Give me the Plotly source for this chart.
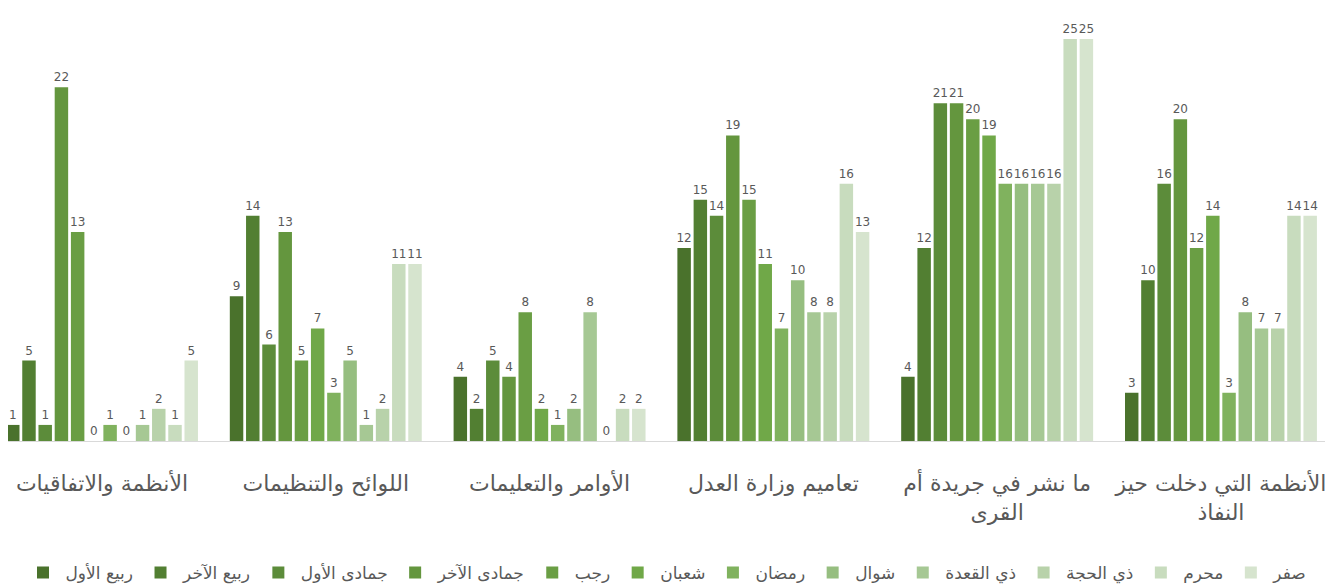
import plotly.graph_objects as go

categories = [
    "الأنظمة والاتفاقيات",
    "اللوائح والتنظيمات",
    "الأوامر والتعليمات",
    "تعاميم وزارة العدل",
    "ما نشر في جريدة أم<br>القرى",
    "الأنظمة التي دخلت حيز<br>النفاذ",
]

months = ["ربيع الأول", "ربيع الآخر", "جمادى الأول", "جمادى الآخر", "رجب", "شعبان",
          "رمضان", "شوال", "ذي القعدة", "ذي الحجة", "محرم", "صفر"]

# values per month, one entry per category (left to right)
rabi_awal = [1, 9, 4, 12, 4, 3]
rabi_akhir = [5, 14, 2, 15, 12, 10]
jumada_awal = [1, 6, 5, 14, 21, 16]
jumada_akhir = [22, 13, 4, 19, 21, 20]
rajab = [13, 5, 8, 15, 20, 12]
shaban = [0, 7, 2, 11, 19, 14]
ramadan = [1, 3, 1, 7, 16, 3]
shawwal = [0, 5, 2, 10, 16, 8]
dhul_qidah = [1, 1, 8, 8, 16, 7]
dhul_hijjah = [2, 2, 0, 8, 16, 7]
muharram = [1, 11, 2, 16, 25, 14]
safar = [5, 11, 2, 13, 25, 14]

series = [rabi_awal, rabi_akhir, jumada_awal, jumada_akhir, rajab, shaban,
          ramadan, shawwal, dhul_qidah, dhul_hijjah, muharram, safar]

colors = ["#4a722c", "#527f32", "#5c8c3a", "#64963e", "#6a9e44", "#70a848",
          "#80b25e", "#96be80", "#a6c894", "#b8d2aa", "#c8dcbe", "#d6e4ce"]

fig = go.Figure()
x_idx = list(range(len(categories)))
for name, vals, col in zip(months, series, colors):
    fig.add_trace(go.Bar(
        x=x_idx, y=vals, name=name,
        marker=dict(color=col, line=dict(width=0)),
        text=[str(v) for v in vals], textposition="outside",
        constraintext="none", cliponaxis=False,
        textfont=dict(family="DejaVu Sans", size=12, color="#595959"),
    ))

# the page adds an 8px body margin, so the figure is 8px smaller on each axis
fig.update_layout(
    template="none",
    width=1326, height=580,
    barmode="group", bargap=0.13, bargroupgap=0.17,
    paper_bgcolor="white", plot_bgcolor="white",
    margin=dict(l=0, r=9, t=2, b=147, autoexpand=False),
    font=dict(family="DejaVu Sans", color="#595959"),
    showlegend=True,
    legend=dict(orientation="h", x=0.5, xanchor="center", y=-0.306, yanchor="middle",
                font=dict(size=17, color="#595959"), traceorder="normal",
                itemwidth=35),
    xaxis=dict(
        tickmode="array", tickvals=x_idx, ticktext=categories,
        range=[-0.42, 5.465], automargin=False,
        showline=True, linecolor="#d9d9d9", linewidth=1,
        ticks="", ticklabelstandoff=23,
        tickfont=dict(size=22, color="#595959"),
        showgrid=False, zeroline=False,
    ),
    yaxis=dict(range=[0, 26.8], visible=False, showgrid=False, zeroline=False,
               automargin=False),
)

fig.write_html("out.html")
